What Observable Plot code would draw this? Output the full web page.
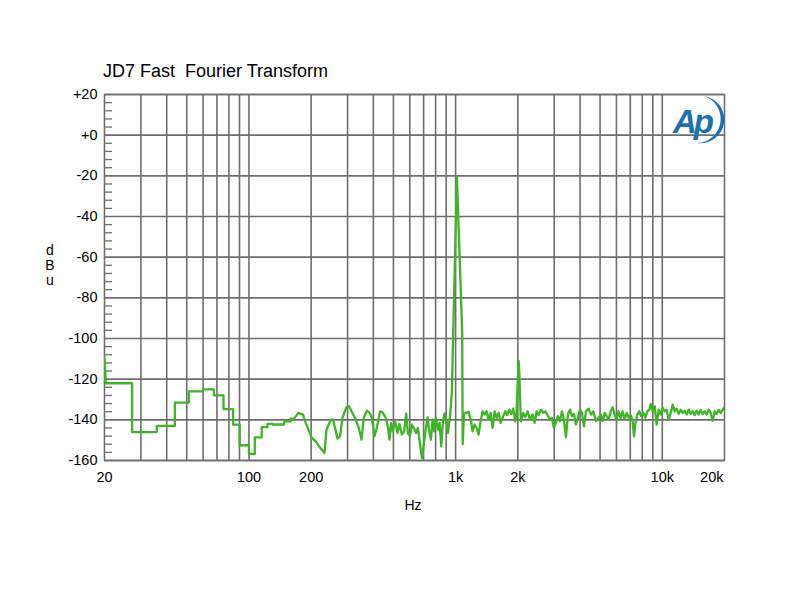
<!DOCTYPE html>
<html><head><meta charset="utf-8">
<script src="https://cdn.jsdelivr.net/npm/d3@7"></script>
<script src="https://cdn.jsdelivr.net/npm/@observablehq/plot@0.6"></script>
<style>body{margin:0;background:#fff;} svg{font-family:"Liberation Sans",Arial,sans-serif;}</style>
</head><body><div id="chart"></div>
<script>
const freqHz = [20, 20.3, 27.2, 27.2, 35.8, 35.8, 43.8, 43.8, 51.2, 51.2, 59.8, 59.8, 67.7, 67.7, 75.3, 75.3, 83.8, 83.8, 90.2, 90.2, 100, 100, 106.7, 106.7, 115.3, 115.3, 122.9, 122.9, 130, 130, 147.9, 147.9, 159.4, 159.4, 165.3,
173.6, 182.7, 188.3, 201.3, 210.5, 220.2, 232, 237.3, 248.9, 255.3, 268.1, 276, 283.4, 296.4, 305, 310.9, 328.7, 339.9, 350.3, 359.4, 371.6, 381.3, 393, 404.9, 415.4, 431, 442.7, 459.4, 471.3, 478.7, 487.4, 496.7, 509.6, 523.4, 535, 549.5, 563.6, 576.4, 587.5, 600.7, 614.2, 630, 643.8, 656.9, 671.7, 686.9, 704.7, 718.2, 731.9, 744.9, 759.2, 773.7, 787.7, 802.7, 820.8, 836.5, 852.2, 868.5, 885.2, 905, 918.2, 938.4, 959.6, 973.6, 1014.6, 1076, 1082, 1097,
1121, 1156, 1186, 1208, 1236, 1263, 1292, 1321, 1351, 1381, 1412, 1444, 1477, 1510, 1544, 1579, 1615, 1651, 1688, 1738, 1777, 1817, 1858, 1900, 1943, 1973, 1991, 2018, 2036, 2059, 2070, 2124, 2172, 2231, 2289, 2359, 2412, 2466, 2522, 2587, 2654, 2714, 2787, 2860, 2924, 2990, 3057, 3126, 3197, 3269, 3343, 3418, 3495, 3574, 3655, 3737, 3821, 3908, 3996, 4086, 4178, 4272, 4403, 4518, 4635, 4777, 4922, 5034, 5147, 5263, 5382, 5503, 5627, 5754, 5881, 6013, 6149, 6287, 6429, 6574, 6725, 6876, 7031, 7190, 7295, 7401, 7568, 7737, 7911, 8090, 8272, 8465, 8655, 8792, 8990, 9193, 9394, 9607, 9823, 10045, 10271, 10503, 10740, 10982, 11229, 11483, 11741, 12006, 12277, 12554, 12837, 13126, 13422, 13725, 14035, 14346, 14670, 15002, 15340, 15686, 16038, 16400, 16770, 17148, 17536, 17930, 18334, 18748, 19170, 19602, 20000];
const levelDbu = [-110, -122, -122, -146, -146, -143, -143, -131.5, -131.5, -126, -126, -125, -125, -128, -128, -134.7, -134.7, -142.4, -142.4, -152.5, -152.5, -156.8, -156.8, -148.6, -148.6, -143.6, -143.6, -142, -142, -142.3, -142.3, -140.7, -140.7, -139.4, -139.4,
-136.6, -137.4, -141.5, -148.9, -150.6, -153.5, -156.3, -144.8, -139.9, -139.9, -149.2, -148, -139, -133.8, -133.3, -135, -139.9, -144, -149.7, -139, -135.5, -136.3, -138.7, -148.1, -144, -135.8, -136.3, -139, -144, -149.7, -141.5, -145.7, -140.7, -146.5, -142, -147.3, -145.6, -136.8, -146.5, -148, -142.4, -144.3, -146.5, -144, -151.4, -158.8, -150.5, -144, -138.7, -145.7, -149.7, -139.9, -145.7, -139, -144.8, -141.5, -153, -140.7, -136.8, -140.7, -146.5, -138.7, -126, -97, -20.5, -97, -152, -137,
-136.6, -136.1, -140.4, -145.6, -142.3, -144, -147.3, -140.7, -135.8, -137.4, -135.8, -139.9, -136.6, -144, -135.8, -139, -136.6, -141.5, -139, -135.8, -137.7, -135, -137.1, -134.5, -140.7, -135.8, -125, -111, -118, -135, -140.7, -136.6, -138.7, -135.8, -139.9, -137.4, -141.5, -135.8, -137.7, -135, -136.6, -135.8, -137.7, -139.9, -139, -144, -141.5, -138.2, -140.7, -135.8, -139.9, -148.6, -137.4, -135, -138.2, -137.1, -142.3, -139, -135, -136.6, -143.2, -135.8, -134.5, -137.4, -135.8, -140.7, -139, -137.4, -140.7, -136.6, -138.2, -139.9, -135.8, -133.8, -137.4, -139.9, -135.8, -139, -135.8, -139.9, -136.6, -139, -137.7, -140.7, -148.1, -142.3, -137.4, -135.8, -138.2, -136.6, -139, -135.8, -135, -132.2, -135.8, -133.3, -142.3, -135, -137.4, -134.1, -135.8, -135, -139.9, -136.6, -132.5, -135.8, -134.5, -137.1, -135, -136.6, -135.5, -137.4, -135, -137.1, -135.8, -137.7, -135.5, -137.4, -135.1, -137.1, -135.8, -137.4, -135, -136.6, -140.4, -135.8, -137.1, -135, -136.6, -135, -133.8];

const xTickValues = [20, 50, 100, 200, 500, 1000, 2000, 5000, 10000];
const xTickLabels = ["20", "50", "100", "200", "500", "1k", "2k", "5k", "10k"];
const xEndTickValues = [20000];
const xEndTickLabels = ["20k"];
const xGridValues = [30, 40, 50, 60, 70, 80, 90, 100, 200, 300, 400, 500, 600, 700, 800, 900, 1000, 2000, 3000, 4000, 5000, 6000, 7000, 8000, 9000, 10000];
const yTickValues = [20, 0, -20, -40, -60, -80, -100, -120, -140, -160];
const yTickLabels = ["+20", "+0", "-20", "-40", "-60", "-80", "-100", "-120", "-140", "-160"];
const yMinorTicks = [16, 12, 8, 4, -4, -8, -12, -16, -24, -28, -32, -36, -44, -48, -52, -56, -64, -68, -72, -76, -84, -88, -92, -96, -104, -108, -112, -116, -124, -128, -132, -136, -144, -148, -152, -156];

const titleText = "JD7 Fast  Fourier Transform";
const xLabelText = "Hz";
const yLabelLetters = ["d", "B", "u"];

const data = freqHz.map((f, i) => ({f, db: levelDbu[i]}));
const gridColor = "#6e6e6e";
const lineColor = "#3db524";

const plot = Plot.plot({
  width: 800, height: 600,
  marginLeft: 104, marginRight: 76, marginTop: 94, marginBottom: 140,
  style: {fontFamily: "Liberation Sans, Arial, sans-serif", fontSize: "14px", color: "#000", background: "#fff"},
  x: {type: "log", domain: [20, 20000]},
  y: {domain: [-160, 20]},
  marks: [
    Plot.gridX(xGridValues, {stroke: gridColor, strokeOpacity: 1, strokeWidth: 1.6}),
    Plot.gridY(yTickValues, {stroke: gridColor, strokeOpacity: 1, strokeWidth: 1.6}),
    Plot.frame({stroke: gridColor, strokeWidth: 1.6}),
    Plot.axisY(yMinorTicks, {anchor: "left", tickSize: 8, dx: 8, tickFormat: () => "", label: null, stroke: gridColor, strokeWidth: 1.3}),
    Plot.axisY(yTickValues, {anchor: "left", tickSize: 0, tickPadding: 7, tickFormat: d => yTickLabels[yTickValues.indexOf(d)], label: null, fontSize: 14.5}),
    Plot.axisX(xTickValues, {anchor: "bottom", tickSize: 0, tickPadding: 11, tickFormat: d => xTickLabels[xTickValues.indexOf(d)], label: null, fontSize: 14.5}),
    Plot.axisX(xEndTickValues, {anchor: "bottom", tickSize: 0, tickPadding: 11, tickFormat: d => xEndTickLabels[xEndTickValues.indexOf(d)], textAnchor: "end", dx: -1, label: null, fontSize: 14.5}),
    Plot.line(data, {x: "f", y: "db", stroke: lineColor, strokeWidth: 2.3, clip: true})
  ]
});

const svg = d3.select(plot);
svg.append("text").attr("x", 103).attr("y", 77).attr("font-size", 18).attr("text-anchor", "start").attr("fill", "#000").text(titleText);
svg.append("text").attr("x", 413).attr("y", 510).attr("font-size", 14).attr("text-anchor", "middle").attr("fill", "#000").text(xLabelText);
yLabelLetters.forEach((ch, i) => {
  svg.append("text").attr("x", 50).attr("y", 255 + i * 15).attr("font-size", 14).attr("text-anchor", "middle").attr("fill", "#000").text(ch);
});
// Ap logo
const logo = svg.append("g").attr("fill", "#1a72b0");
logo.append("text").attr("x", 673).attr("y", 133).attr("font-size", 33).attr("text-anchor", "start").attr("font-style", "italic").attr("font-weight", "bold").attr("letter-spacing", -3).text("Ap");
logo.append("path").attr("d", "M704,96 A23.4,23.4 0 0 1 697,143 A24.1,24.1 0 0 0 704,96 Z");

document.getElementById("chart").appendChild(plot);
</script>
</body></html>
